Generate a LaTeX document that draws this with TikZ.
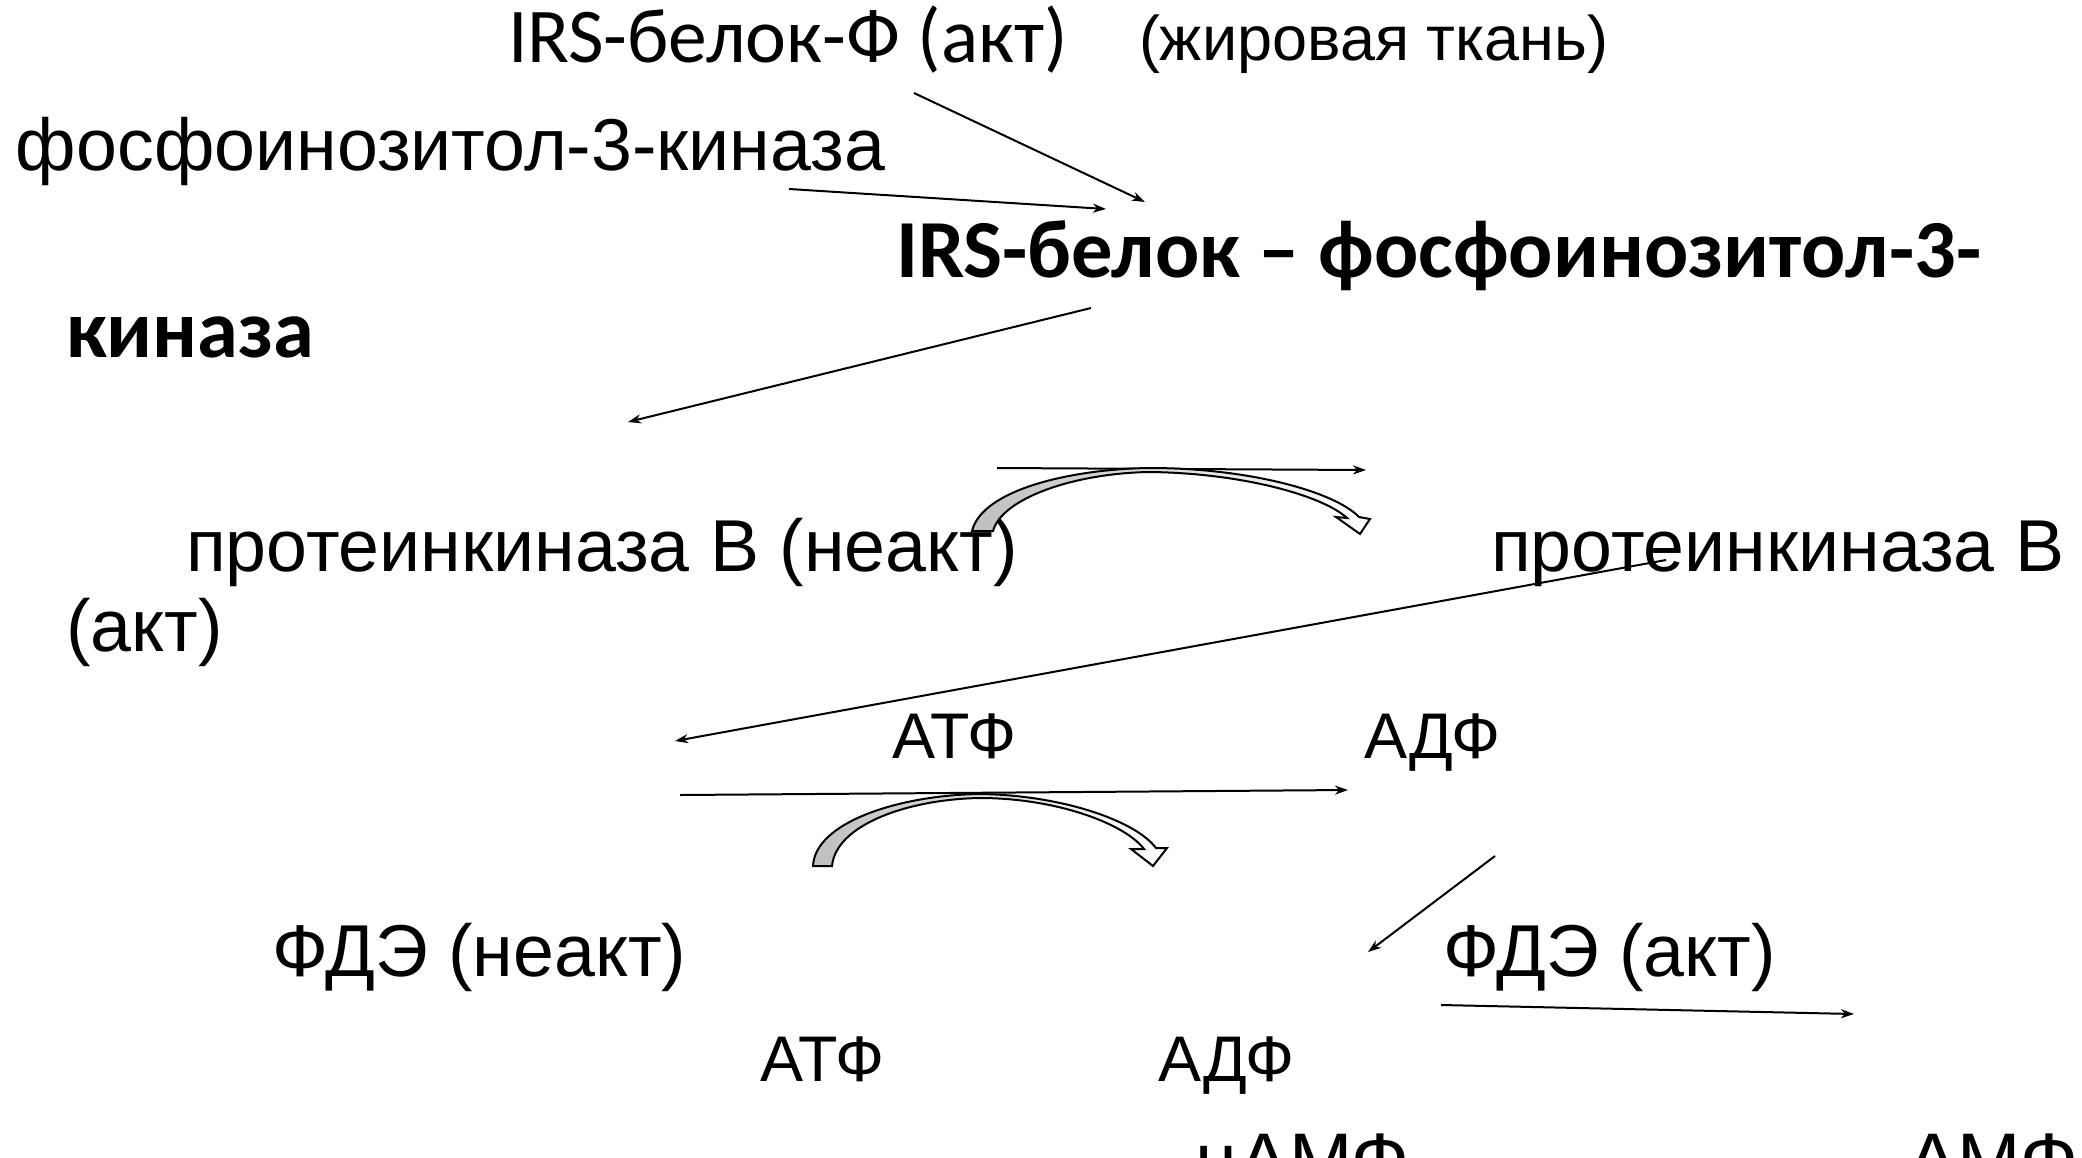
\documentclass[tikz,border=0pt]{standalone}
\usepackage{fontspec}
\setmainfont{Liberation Sans}
\newfontfamily\calibrifont{Carlito}
\usetikzlibrary{arrows.meta}
\tikzset{
  lbl/.style={anchor=base west, inner sep=0pt, outer sep=0pt, font=\fontsize{73.5}{80}\selectfont},
  smlbl/.style={anchor=base west, inner sep=0pt, outer sep=0pt, font=\fontsize{64.5}{70}\selectfont},
  midlbl/.style={anchor=base west, inner sep=0pt, outer sep=0pt, font=\fontsize{76}{82}\selectfont},
  fatlbl/.style={anchor=base west, inner sep=0pt, outer sep=0pt, font=\fontsize{63}{68}\selectfont},
  callbl/.style={anchor=base west, inner sep=0pt, outer sep=0pt, font=\calibrifont\fontsize{77.5}{84}\selectfont},
  calbold/.style={anchor=base west, inner sep=0pt, outer sep=0pt, font=\calibrifont\bfseries\fontsize{82.5}{88}\selectfont},
  arr/.style={line width=2pt, -{Stealth[length=13pt,width=9pt,inset=4pt]}},
  blockarr/.style={draw=black, line width=2pt, line join=miter, left color=black!25, middle color=white, right color=white},
}
\begin{document}
\begin{tikzpicture}[x=1pt,y=-1pt]
\useasboundingbox (0,0) rectangle (2082,1157);
\clip (0,0) rectangle (2082,1157);
\fill[white] (0,0) rectangle (2082,1157);

% texts
\node[callbl] (irsf) at (508,62) {IRS-белок-Ф (акт)};
\node[fatlbl] (fat) at (1139,60) {(жировая ткань)};
\node[lbl] (pi3k) at (16,170) {фосфоинозитол-3-киназа};
\node[calbold] (cplx) at (896,277) {IRS-белок – фосфоинозитол-3-};
\node[calbold] (cplxb) at (66,357) {киназа};
\node[lbl] (pkbi) at (186,571) {протеинкиназа В (неакт)};
\node[lbl] (pkba) at (1491,571) {протеинкиназа В};
\node[lbl] (pkbab) at (66,651) {(акт)};
\node[smlbl] (atpa) at (892,758) {АТФ};
\node[smlbl] (adpa) at (1364,758) {АДФ};
\node[lbl] (pdei) at (272,976) {ФДЭ (неакт)};
\node[lbl] (pdea) at (1443,976) {ФДЭ (акт)};
\node[smlbl] (atpb) at (760,1081) {АТФ};
\node[smlbl] (adpb) at (1158,1081) {АДФ};
\node[midlbl] (camp) at (1195,1186) {цАМФ};
\node[midlbl] (amp) at (1907,1186) {АМФ};

% connector end points
\coordinate (a1s) at (914,93);   \coordinate (a1e) at (1145,202);
\coordinate (a2s) at (789,189);  \coordinate (a2e) at (1106,209);
\coordinate (a3s) at (1091,308); \coordinate (a3e) at (628,422);
\coordinate (a4s) at (997,468);  \coordinate (a4e) at (1366,470);
\coordinate (a6s) at (1666,560); \coordinate (a6e) at (675,741);
\coordinate (a7s) at (680,795);  \coordinate (a7e) at (1348,790);
\coordinate (a9s) at (1495,856); \coordinate (a9e) at (1368,952);
\coordinate (a10s) at (1441,1005); \coordinate (a10e) at (1854,1014);

\draw[arr] (a1s) -- (a1e);
\draw[arr] (a2s) -- (a2e);
\draw[arr] (a3s) -- (a3e);
\draw[arr] (a4s) -- (a4e);
\draw[arr] (a6s) -- (a6e);
\draw[arr] (a7s) -- (a7e);
\draw[arr] (a9s) -- (a9e);
\draw[arr] (a10s) -- (a10e);

% curved block arrows
\draw[blockarr] (972,531) .. controls (982,490) and (1070,469) .. (1150,468)
  .. controls (1250,468) and (1335,492) .. (1359,517) -- (1370,519) -- (1360,534)
  -- (1336,517) -- (1347,518) .. controls (1322,495) and (1240,473) .. (1150,472)
  .. controls (1075,473) and (1002,498) .. (993,531) -- cycle;
\draw[blockarr] (813,866) .. controls (815,822) and (900,795) .. (980,794)
  .. controls (1060,795) and (1135,820) .. (1156,848) -- (1167,848) -- (1153,866)
  -- (1131,849) -- (1144,849) .. controls (1124,823) and (1055,798) .. (980,798)
  .. controls (910,799) and (836,824) .. (832,866) -- cycle;
\end{tikzpicture}
\end{document}
